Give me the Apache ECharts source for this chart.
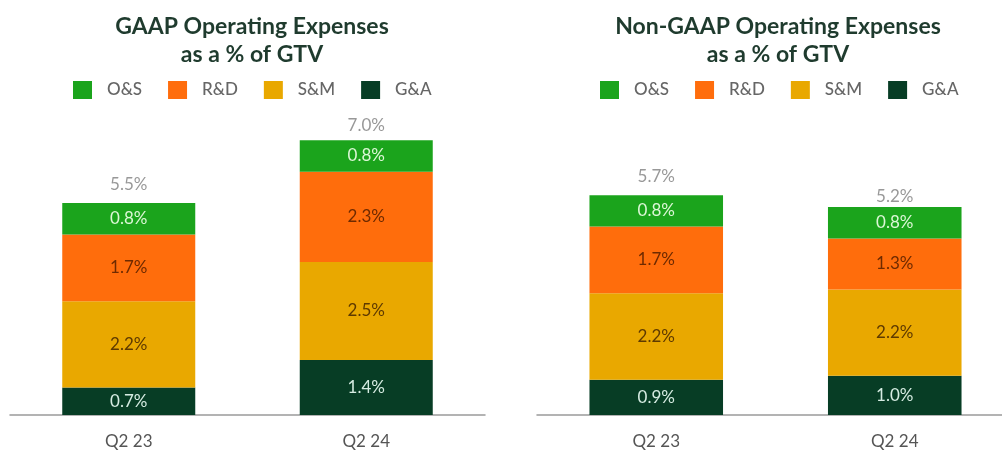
<!DOCTYPE html>
<html>
<head>
<meta charset="utf-8">
<script src="https://cdn.jsdelivr.net/npm/echarts@6/dist/echarts.min.js"></script>
<style>
  html, body { margin: 0; padding: 0; background: #fff; overflow: hidden; }
  /* a bit wider than the window: the right axis line runs off the edge in the original */
  #main { width: 1020px; height: 450px; }
</style>
</head>
<body>
<div id="main"></div>
<script>
// data
const categories = ['Q2 23', 'Q2 24'];
const legendOrder = ['O&S', 'R&D', 'S&M', 'G&A'];

// GAAP, % of GTV
const gaapGA = [0.7, 1.4];
const gaapSM = [2.2, 2.5];
const gaapRD = [1.7, 2.3];
const gaapOS = [0.8, 0.8];
const gaapTotal = [5.5, 7.0];

// Non-GAAP, % of GTV
const nonGaapGA = [0.9, 1.0];
const nonGaapSM = [2.2, 2.2];
const nonGaapRD = [1.7, 1.3];
const nonGaapOS = [0.8, 0.8];
const nonGaapTotal = [5.7, 5.2];

const colors = {
	'O&S': '#1ba41c',
	'R&D': '#ff6d0c',
	'S&M': '#e9a800',
	'G&A': '#073d25',
};
const labelColors = {
	'O&S': '#dcf7d6',
	'R&D': '#6e2a00',
	'S&M': '#5e3a00',
	'G&A': '#d6ece2',
};
const font = 'Lato';

const chart = echarts.init(document.getElementById('main'), null, { renderer: 'canvas' });

// one stacked bar per segment
const makeBar = (name, data, idx) => ({
	name: name,
	type: 'bar',
	stack: 'total' + idx,
	xAxisIndex: idx,
	yAxisIndex: idx,
	barWidth: '56%',
	data: data,
	itemStyle: { color: colors[name] },
	label: {
		show: true,
		position: 'inside',
		formatter: (p) => p.value.toFixed(1) + '%',
		color: labelColors[name],
		fontFamily: font,
		fontSize: 17,
	},
});

// total above the bar
const makeTotal = (data, idx) => ({
	name: 'total',
	type: 'scatter',
	xAxisIndex: idx,
	yAxisIndex: idx,
	symbolSize: 0,
	data: data,
	silent: true,
	label: {
		show: true,
		position: 'top',
		distance: 6,
		formatter: (p) => p.value.toFixed(1) + '%',
		color: '#7e7e7e',
		fontFamily: font,
		fontSize: 17,
	},
});

const makeLegend = (left) => ({
	data: legendOrder,
	top: 76,
	left: left,
	itemWidth: 19,
	itemHeight: 18,
	itemGap: 26,
	icon: 'rect',
	selectedMode: false,
	textStyle: {
		color: '#666',
		fontFamily: font,
		fontSize: 17,
		fontWeight: 500,
		padding: [0, 0, 0, 10],
	},
});

const titleStyle = {
	color: '#1f3b2e',
	fontFamily: font,
	fontSize: 23,
	fontWeight: 'bold',
	lineHeight: 28,
	align: 'center',
};

const xAxisBase = (idx) => ({
	type: 'category',
	gridIndex: idx,
	data: categories,
	axisTick: { show: false },
	axisLine: { lineStyle: { color: '#9a9a9a', width: 1.5 } },
	axisLabel: { color: '#555', fontFamily: font, fontSize: 17, margin: 18 },
});

const yAxisBase = (idx) => ({
	type: 'value',
	gridIndex: idx,
	min: 0,
	max: 8,
	show: false,
	splitLine: { show: false },
});

const option = {
	backgroundColor: '#fff',
	animation: false,
	title: [
		{ text: 'GAAP Operating Expenses\nas a % of GTV', left: 247, top: 8, textAlign: 'center', textStyle: titleStyle },
		{ text: 'Non-GAAP Operating Expenses\nas a % of GTV', left: 773, top: 8, textAlign: 'center', textStyle: titleStyle },
	],
	legend: [makeLegend(68), makeLegend(595)],
	grid: [
		{ left: 10, width: 475, top: 101, bottom: 34 },
		{ left: 537, width: 477, top: 101, bottom: 34 },
	],
	xAxis: [xAxisBase(0), xAxisBase(1)],
	yAxis: [yAxisBase(0), yAxisBase(1)],
	series: [
		makeBar('G&A', gaapGA, 0),
		makeBar('S&M', gaapSM, 0),
		makeBar('R&D', gaapRD, 0),
		makeBar('O&S', gaapOS, 0),
		makeTotal(gaapTotal, 0),
		makeBar('G&A', nonGaapGA, 1),
		makeBar('S&M', nonGaapSM, 1),
		makeBar('R&D', nonGaapRD, 1),
		makeBar('O&S', nonGaapOS, 1),
		makeTotal(nonGaapTotal, 1),
	],
};

chart.setOption(option);
</script>
</body>
</html>
